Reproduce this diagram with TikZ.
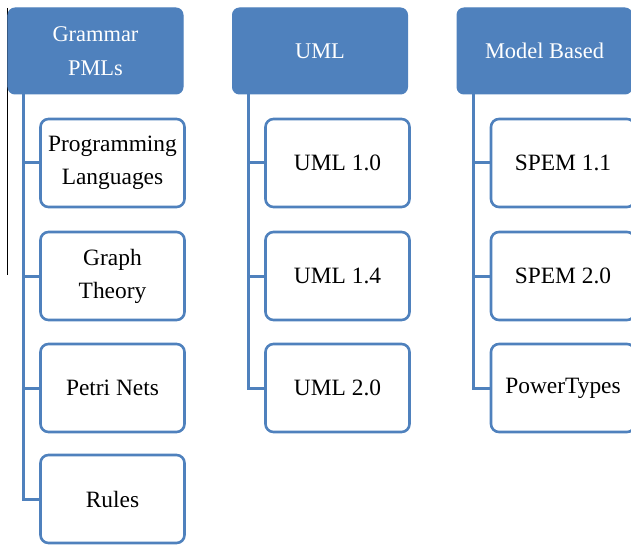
\documentclass[tikz,border=0pt]{standalone}
\usepackage{fontspec}
\setmainfont{Liberation Serif}
\definecolor{ofblue}{HTML}{4F81BD}
\begin{document}
\begin{tikzpicture}[x=1bp,y=-1bp,
  head/.style={draw=ofblue, fill=ofblue, line width=1bp, rounded corners=7bp,
    minimum width=175bp, minimum height=86bp, text=white, align=center,
    font=\fontsize{22.5}{34}\selectfont, inner sep=0pt},
  item/.style={draw=ofblue, fill=white, line width=2.6bp, rounded corners=8bp,
    minimum width=144bp, minimum height=88bp, text=black, align=center,
    font=\fontsize{23.5}{33}\selectfont, inner sep=0pt},
  conn/.style={draw=ofblue, line width=3bp}]
\useasboundingbox (0,0) rectangle (631,545);
\clip (0,0) rectangle (631,545);
% thin black edge line
\draw[black, line width=0.9bp] (7,8) -- (7,275);

% column headers
\node[head] (h1) at (95.5,51) {Grammar\\PMLs};
\node[head] (h2) at (320,51) {UML};
\node[head] (h3) at (544.5,51) {Model Based};

% trunk start points
\coordinate (t1) at (23,93);
\coordinate (t2) at (248,93);
\coordinate (t3) at (473,93);

% column 1
\node[item] (c11) at (112.5,163) {Programming\\Languages};
\node[item] (c12) at (112.5,276) {Graph\\Theory};
\node[item] (c13) at (112.5,388) {Petri Nets};
\node[item] (c14) at (112.5,499) {Rules};

% column 2
\node[item] (c21) at (337.5,163) {UML 1.0};
\node[item] (c22) at (337.5,276) {UML 1.4};
\node[item] (c23) at (337.5,388) {UML 2.0};

% column 3
\node[item] (c31) at (563,163) {SPEM 1.1};
\node[item] (c32) at (563,276) {SPEM 2.0};
\node[item] (c33) at (563,388) {PowerTypes};

% connectors
\foreach \c in {c11,c12,c13,c14} \draw[conn] (\c.west) -| (t1);
\foreach \c in {c21,c22,c23} \draw[conn] (\c.west) -| (t2);
\foreach \c in {c31,c32,c33} \draw[conn] (\c.west) -| (t3);
\end{tikzpicture}
\end{document}
